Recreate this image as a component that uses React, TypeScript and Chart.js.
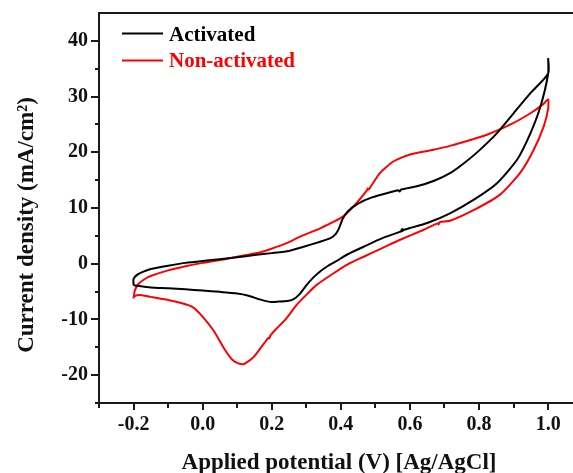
import React, { useEffect, useRef } from "react";
import { Chart, registerables } from "chart.js";

Chart.register(...registerables);

// Cyclic voltammograms, scanned -0.2 V -> 1.0 V -> -0.2 V
const activatedV = [
  -0.2, -0.2, -0.19, -0.175, -0.15, -0.1, -0.05, 0.0, 0.05, 0.1, 0.15, 0.2, 0.25, 0.29, 0.34, 0.37,
  0.385, 0.395, 0.405, 0.42, 0.45, 0.49, 0.53, 0.566, 0.57, 0.574, 0.62, 0.67, 0.72, 0.76, 0.8, 0.85,
  0.9, 0.95, 1.0, 1.0, 1.0,
  0.978, 0.949, 0.91, 0.852, 0.784, 0.716, 0.65, 0.6, 0.575, 0.578, 0.58, 0.52, 0.466, 0.42, 0.388,
  0.36, 0.34, 0.32, 0.3, 0.28, 0.262, 0.245, 0.22, 0.195, 0.165, 0.13, 0.1, 0.05, 0.0, -0.05, -0.1,
  -0.15, -0.2,
];
const activatedJ = [
  -3.85, -2.7, -2.0, -1.5, -0.95, -0.35, 0.15, 0.5, 0.8, 1.15, 1.55, 1.9, 2.3, 3.0, 3.95, 4.6,
  5.3, 6.4, 8.0, 9.4, 10.8, 11.9, 12.6, 13.2, 12.95, 13.3, 13.9, 14.9, 16.4, 18.2, 20.3, 23.3,
  27.0, 30.7, 34.1, 36.9, 34.1,
  28.25, 23.45, 18.65, 14.45, 11.45, 9.05, 7.3, 6.4, 5.95, 6.25, 5.95, 4.6, 3.05, 1.7, 0.5,
  -0.5, -1.4, -2.5, -3.9, -5.5, -6.4, -6.7, -6.8, -6.85, -6.4, -5.7, -5.35, -5.05, -4.8, -4.6, -4.4,
  -4.25, -3.85,
];

const nonActivatedV = [
  -0.2, -0.196, -0.185, -0.165, -0.15, -0.1, -0.05, 0.0, 0.05, 0.1, 0.165, 0.2, 0.24, 0.282, 0.34,
  0.406, 0.445, 0.476, 0.478, 0.481, 0.513, 0.552, 0.6, 0.668, 0.716, 0.78, 0.823, 0.89, 0.95,
  0.985, 1.0,
  1.0, 0.987, 0.958, 0.919, 0.861, 0.784, 0.716, 0.686, 0.683, 0.68, 0.64, 0.57, 0.52, 0.466, 0.42,
  0.378, 0.33, 0.3, 0.272, 0.242, 0.21, 0.196, 0.193, 0.19, 0.15, 0.135, 0.117, 0.1, 0.085,
  0.065, 0.031, -0.008, -0.03, -0.057, -0.1, -0.125, -0.15, -0.175, -0.19, -0.2,
];
const nonActivatedJ = [
  -6.25, -4.75, -3.6, -2.65, -2.2, -1.2, -0.45, 0.15, 0.65, 1.25, 2.0, 2.7, 3.6, 4.85, 6.35,
  8.45, 10.85, 13.2, 13.5, 13.35, 16.25, 18.35, 19.6, 20.45, 21.15, 22.3, 23.15, 24.95, 27.05,
  28.6, 29.5,
  27.8, 24.6, 20.4, 16.3, 12.4, 9.6, 7.7, 7.45, 7.05, 7.25, 6.1, 4.25, 2.8, 1.25, -0.1,
  -1.75, -3.8, -5.6, -7.4, -9.85, -11.9, -12.9, -13.4, -13.3, -16.6, -17.4, -18.05, -17.8, -17.2,
  -15.5, -11.95, -8.95, -7.75, -7.15, -6.5, -6.25, -5.95, -5.65, -5.65, -5.95,
];

const xTickValues = [-0.2, 0.0, 0.2, 0.4, 0.6, 0.8, 1.0];
const yTickValues = [-20, -10, 0, 10, 20, 30, 40];
const xMinorValues = [-0.3, -0.1, 0.1, 0.3, 0.5, 0.7, 0.9];
const yMinorValues = [-25, -15, -5, 5, 15, 25, 35];

const seriesNames = ["Activated", "Non-activated"];
const seriesColors = ["#000000", "#ff0000"];

const FONT = "'Liberation Serif', 'Times New Roman', serif";

const toPoints = (xs: number[], ys: number[]) => xs.map((x, i) => ({ x, y: ys[i] }));

const framePlugin = {
  id: "frameAndLabels",
  afterDraw(chart: any) {
    const { ctx, chartArea, scales } = chart;
    const { left, right, top, bottom } = chartArea;
    const xs = scales.x;
    const ys = scales.y;
    ctx.save();
    ctx.strokeStyle = "#1a1a1a";
    ctx.lineWidth = 2;
    ctx.lineCap = "butt";
    // frame: left, bottom and top edges
    ctx.beginPath();
    ctx.moveTo(left, top);
    ctx.lineTo(left, bottom + 1);
    ctx.moveTo(left - 1, bottom);
    ctx.lineTo(right, bottom);
    ctx.moveTo(left - 1, top);
    ctx.lineTo(right, top);
    ctx.stroke();

    // tick marks
    ctx.beginPath();
    xTickValues.forEach((v) => {
      const px = Math.round(xs.getPixelForValue(v));
      ctx.moveTo(px, bottom);
      ctx.lineTo(px, bottom + 7);
    });
    xMinorValues.forEach((v) => {
      const px = Math.round(xs.getPixelForValue(v));
      ctx.moveTo(px, bottom);
      ctx.lineTo(px, bottom + 5);
    });
    yTickValues.forEach((v) => {
      const py = Math.round(ys.getPixelForValue(v));
      ctx.moveTo(left, py);
      ctx.lineTo(left - 8, py);
    });
    yMinorValues.forEach((v) => {
      const py = Math.round(ys.getPixelForValue(v));
      ctx.moveTo(left, py);
      ctx.lineTo(left - 4, py);
    });
    ctx.stroke();

    // legend
    const legendY = [33.5, 60.5];
    const legendBase = [40.5, 67];
    seriesNames.forEach((name, i) => {
      ctx.strokeStyle = seriesColors[i];
      ctx.lineWidth = 2;
      ctx.beginPath();
      ctx.moveTo(122, legendY[i]);
      ctx.lineTo(163, legendY[i]);
      ctx.stroke();
      ctx.fillStyle = seriesColors[i];
      ctx.font = `bold 21px ${FONT}`;
      ctx.textAlign = "left";
      ctx.textBaseline = "alphabetic";
      ctx.fillText(name, 169, legendBase[i]);
    });

    // axis titles
    ctx.fillStyle = "#111";
    ctx.font = `bold 23px ${FONT}`;
    ctx.textAlign = "center";
    ctx.textBaseline = "alphabetic";
    ctx.fillText("Applied potential (V) [Ag/AgCl]", (left + right) / 2 + 3, 469);

    ctx.translate(33, 225);
    ctx.rotate(-Math.PI / 2);
    ctx.fillText("Current density (mA/cm\u00B2)", 0, 0);
    ctx.restore();
  },
};

export default function App() {
  const canvasRef = useRef<HTMLCanvasElement | null>(null);

  useEffect(() => {
    if (!canvasRef.current) return;
    const tickFont = { family: FONT, size: 20, weight: "bold" as const };
    const chart = new Chart(canvasRef.current, {
      type: "scatter",
      data: {
        datasets: [
          {
            label: seriesNames[0],
            data: toPoints(activatedV, activatedJ),
            showLine: true,
            borderColor: seriesColors[0],
            borderWidth: 2,
            pointRadius: 0,
            tension: 0.2,
          },
          {
            label: seriesNames[1],
            data: toPoints(nonActivatedV, nonActivatedJ),
            showLine: true,
            borderColor: seriesColors[1],
            borderWidth: 2,
            pointRadius: 0,
            tension: 0.2,
          },
        ],
      },
      options: {
        responsive: false,
        animation: false,
        devicePixelRatio: 1,
        layout: { padding: { top: 13, right: 0, left: 0, bottom: 0 } },
        plugins: {
          legend: { display: false },
          tooltip: { enabled: false },
        },
        scales: {
          x: {
            type: "linear",
            min: -0.3,
            max: 1.072,
            grid: { display: false, drawTicks: false },
            border: { display: false },
            afterBuildTicks: (scale: any) => {
              scale.ticks = xTickValues.map((value) => ({ value }));
            },
            afterFit: (scale: any) => {
              scale.height = 70;
              scale.paddingLeft = 0;
              scale.paddingRight = 0;
            },
            ticks: {
              font: tickFont,
              color: "#111",
              padding: 10,
              maxRotation: 0,
              autoSkip: false,
              callback: (v: any) => Number(v).toFixed(1),
            },
          },
          y: {
            type: "linear",
            min: -25,
            max: 45,
            grid: { display: false, drawTicks: false },
            border: { display: false },
            afterBuildTicks: (scale: any) => {
              scale.ticks = yTickValues.map((value) => ({ value }));
            },
            afterFit: (scale: any) => {
              scale.width = 99;
              scale.paddingTop = 0;
              scale.paddingBottom = 0;
            },
            ticks: {
              font: tickFont,
              color: "#111",
              padding: 11,
              autoSkip: false,
              callback: (v: any) => String(v),
            },
          },
        },
      },
      plugins: [framePlugin],
    });
    return () => chart.destroy();
  }, []);

  return (
    <div style={{ position: "absolute", left: 0, top: 0, width: 573, height: 473, background: "#fff" }}>
      <canvas ref={canvasRef} width={573} height={473} />
    </div>
  );
}
